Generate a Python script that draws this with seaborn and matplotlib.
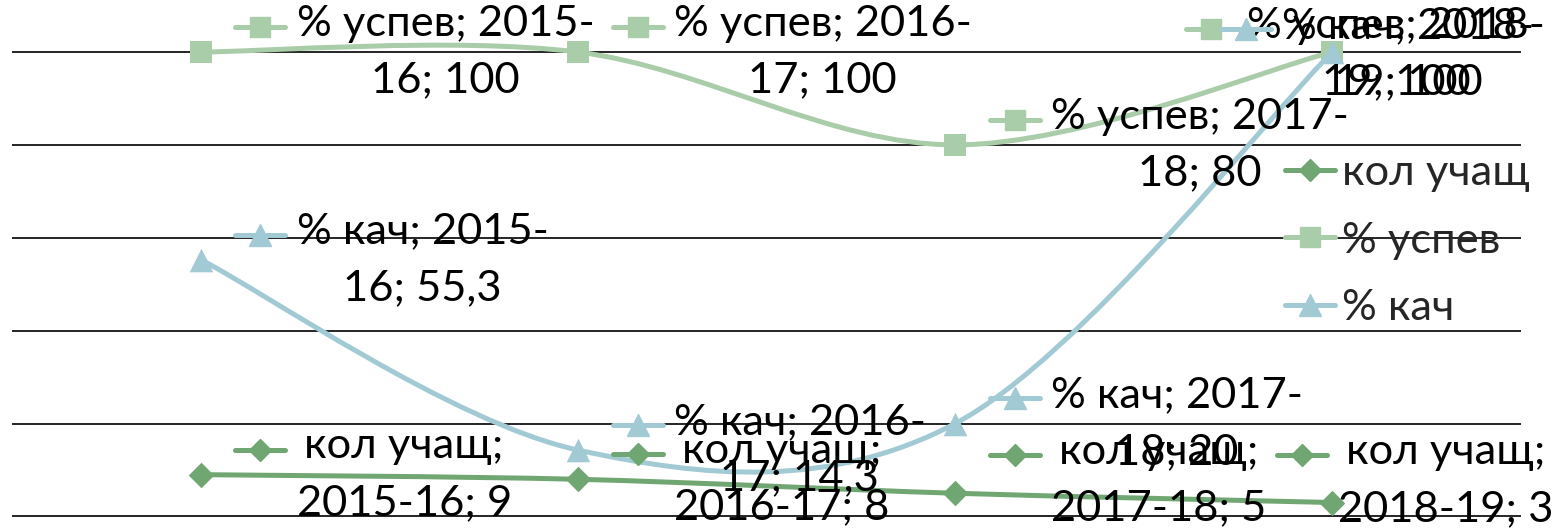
import numpy as np
import pandas as pd
import matplotlib
matplotlib.use("Agg")
import matplotlib.pyplot as plt
import seaborn as sns
from matplotlib.path import Path
from matplotlib.patches import PathPatch
from matplotlib.lines import Line2D
from matplotlib.offsetbox import AnnotationBbox, DrawingArea, TextArea, HPacker

# Data
years = ["2015-16", "2016-17", "2017-18", "2018-19"]
kol_uchashch = [9, 8, 5, 3]
pct_uspev = [100, 100, 80, 100]
pct_kach = [55.3, 14.3, 20, 100]

series_names = ["кол учащ", "% успев", "% кач"]
series_values = [kol_uchashch, pct_uspev, pct_kach]
colors = {"кол учащ": "#70A672", "% успев": "#A9CCA9", "% кач": "#A2CAD4"}
markers = {"кол учащ": "D", "% успев": "s", "% кач": "^"}
msize = {"кол учащ": 13, "% успев": 15.5, "% кач": 17}

# label layout: (dx px of block left, dy px of block centre) relative to the point
label_shift = {
    ("кол учащ", 0): (32, 0),
    ("кол учащ", 1): (32, 0),
    ("кол учащ", 2): (32, 13),
    ("кол учащ", 3): (-58, 22),
    ("% успев", 3): (-149, -2),
    ("% кач", 3): (-114, -2),
}

FONT = "Lato"
FS = 31.3
LW = 3.6

df = pd.DataFrame(
    [{"year": y, "series": s, "value": v}
     for s, vals in zip(series_names, series_values)
     for y, v in zip(years, vals)]
)


def smooth_path(xs, ys):
    # cubic bezier through the points (Catmull-Rom style tangents)
    pts = np.column_stack([xs, ys]).astype(float)
    n = len(pts)
    verts = [pts[0]]
    codes = [Path.MOVETO]
    for i in range(n - 1):
        p_prev = pts[i - 1] if i > 0 else pts[i]
        p_next2 = pts[i + 2] if i + 2 < n else pts[i + 1]
        c1 = pts[i] + (pts[i + 1] - p_prev) / 6
        c2 = pts[i + 1] - (p_next2 - pts[i]) / 6
        verts += [c1, c2, pts[i + 1]]
        codes += [Path.CURVE4] * 3
    return Path(verts, codes)


sns.set_style("white")
plt.rcParams["font.family"] = [FONT, "DejaVu Sans"]

fig = plt.figure(figsize=(15.55, 5.29), dpi=100)
ax = fig.add_axes([12 / 1555, 0, 1509 / 1555, 1])

for gy in range(0, 101, 20):
    ax.axhline(gy, color="black", lw=1.2, zorder=1)

for k, name in enumerate(series_names):
    sub = df[df["series"] == name]
    patch = PathPatch(smooth_path(np.arange(len(years)), sub["value"].values),
                      fill=False, edgecolor=colors[name], lw=LW,
                      capstyle="round", zorder=2 + k)
    ax.add_patch(patch)
    sns.scatterplot(data=sub, x=np.arange(len(years)), y="value",
                    marker=markers[name], color=colors[name],
                    s=msize[name] ** 2, edgecolor=colors[name],
                    linewidth=0, zorder=2.5 + k, legend=False, ax=ax)

ax.set_xlim(-0.5, 3.5)
ax.set_ylim(-2.7, 111.2)
ax.set_xticks([])
ax.set_yticks([])
ax.set_xlabel("")
ax.set_ylabel("")
sns.despine(ax=ax, left=True, bottom=True)


def key_area(name):
    da = DrawingArea(40, 32, 0, 0)
    da.add_artist(Line2D([2, 38], [16, 16], color=colors[name], lw=LW,
                         solid_capstyle="round"))
    da.add_artist(Line2D([20], [16], marker=markers[name], color=colors[name],
                         markersize=msize[name] * 0.9, lw=0))
    return da


for name, vals in zip(series_names, series_values):
    for i, (yr, v) in enumerate(zip(years, vals)):
        if name == "кол учащ":
            txt = f"{name};\n{yr}; {v}"
        else:
            a, b = yr.split("-")
            vs = f"{v}".replace(".", ",")
            txt = f"{name}; {a}-\n{b}; {vs}"
        ta = TextArea(txt, textprops=dict(fontsize=FS, family=[FONT, "DejaVu Sans"],
                                          color="black", multialignment="center",
                                          linespacing=1.6))
        box = HPacker(children=[key_area(name), ta], align="top", pad=0, sep=6)
        dx, dy = label_shift.get((name, i), (32, 0))
        ab = AnnotationBbox(box, (i, v), xybox=(dx, dy), xycoords="data",
                            boxcoords="offset pixels", box_alignment=(0, 0.5),
                            frameon=False, pad=0, zorder=10)
        ax.add_artist(ab)

handles = [Line2D([0], [0], color=colors[n], lw=LW, marker=markers[n],
                  markersize=msize[n] * 0.9) for n in series_names]
leg = ax.legend(handles, series_names, loc="center left",
                bbox_to_anchor=((1285 - 12) / 1509, 0.545), frameon=False,
                prop=dict(family=[FONT, "DejaVu Sans"], size=FS),
                handlelength=1.15, handletextpad=0.15, labelspacing=0.68,
                borderpad=0, borderaxespad=0)

fig.savefig("out.png", dpi=100)
